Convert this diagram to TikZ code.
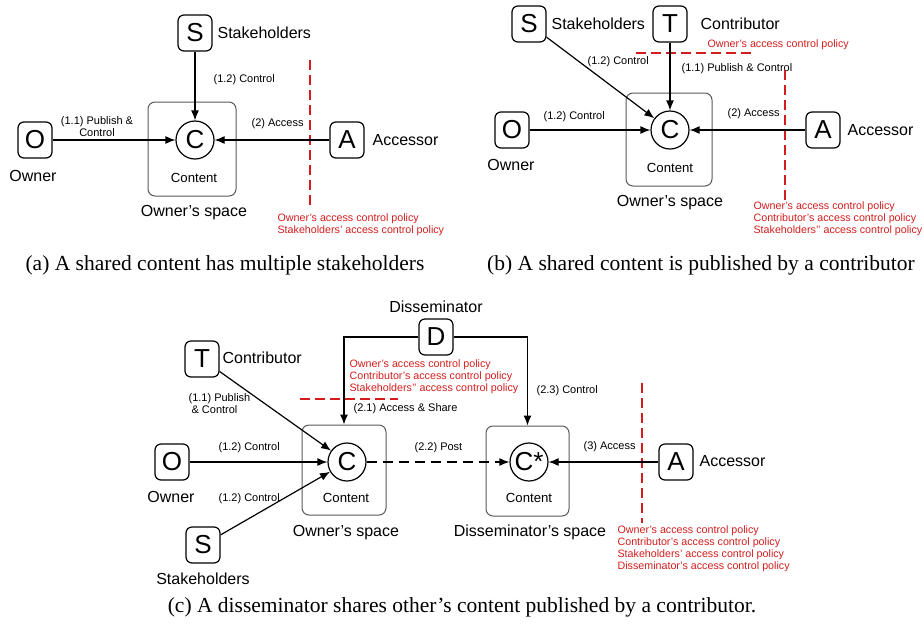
\documentclass[tikz,border=0pt]{standalone}
\usepackage{fontspec}
\setmainfont{Liberation Sans}
\newfontfamily\capfont{Liberation Serif}
\usetikzlibrary{arrows.meta}
\definecolor{policyred}{RGB}{212,28,28}

\begin{document}
\begin{tikzpicture}[x=1pt,y=-1pt,line width=1.2pt,>={Latex[length=10pt,width=8pt]}]
\useasboundingbox (0,0) rectangle (924,625);
\tikzset{
  spacebox/.style={draw=black!65,line width=1pt,rounded corners=7pt},
  lbl/.style={inner sep=0pt,font=\fontsize{16}{16}\selectfont},
  cnt/.style={inner sep=0pt,font=\fontsize{13.2}{13.2}\selectfont},
  act/.style={inner sep=0pt,anchor=west,font=\fontsize{11}{12}\selectfont},
  pol/.style={inner sep=0pt,anchor=north west,align=left,text=policyred,font=\fontsize{10.7}{12.2}\selectfont},
  polline/.style={draw=policyred,line width=1.1pt,dash pattern=on 10pt off 5pt},
  captext/.style={inner sep=0pt,font=\capfont\fontsize{21.5}{22}\selectfont}
}
% spaces
\node[spacebox,minimum width=88pt,minimum height=94pt] (spa) at (192,149) {};
\node[spacebox,minimum width=86pt,minimum height=93pt] (spb) at (669,139.5) {};
\node[spacebox,minimum width=84pt,minimum height=90pt] (spc) at (344,470) {};
\node[spacebox,minimum width=83pt,minimum height=90pt] (spd) at (527.5,471) {};

\begin{scope}[minimum width=34pt,minimum height=36pt,font=\fontsize{26}{26}\selectfont]
\tikzstyle{every node}=[draw,rounded corners=6pt,inner sep=0pt]
\node (sa) at (195,33) {S};
\node (oa) at (35,140) {O};
\node (aa) at (347,140) {A};
\node (sb) at (529,24) {S};
\node (tb) at (670,24) {T};
\node (ob) at (512,130) {O};
\node (ab) at (823,130) {A};
\node (dc) at (436,337) {D};
\node (tc) at (202,359) {T};
\node (oc) at (172,462) {O};
\node (sc) at (203,545) {S};
\node (ac) at (676,462) {A};
\end{scope}

\begin{scope}[shape=circle,minimum size=38pt,font=\fontsize{26}{26}\selectfont]
\tikzstyle{every node}=[draw,inner sep=0pt]
\node (ca) at (195,140) {C};
\node (cb) at (670,130) {C};
\node (cc) at (347,462) {C};
\node (cd) at (529,462) {C*};
\end{scope}

% (a)
\node[lbl,anchor=west] (lsa) at (217,33) {Stakeholders};
\node[lbl] (loa) at (33,176) {Owner};
\node[lbl,anchor=west] (laa) at (372,140) {Accessor};
\node[lbl] (lspa) at (194,213) {Owner’s space};
\node[cnt] (lca) at (194,178) {Content};
\node[act] (xa1) at (213,80) {(1.2) Control};
\node[act] (xa2) at (251,124) {(2) Access};
\node[act,anchor=center,align=center] (xa3) at (97,127) {(1.1) Publish \&\\Control};
\draw[polline] (310,60) -- (310,205);
\node[pol] (pa) at (277,213) {Owner’s access control policy\\Stakeholders’ access control policy};
\node[captext] (capa) at (225,265) {(a) A shared content has multiple stakeholders};

% (b)
\node[lbl,anchor=west] (lsb) at (551,24) {Stakeholders};
\node[lbl,anchor=west] (ltb) at (700,24) {Contributor};
\node[lbl] (lob) at (511,165) {Owner};
\node[lbl,anchor=west] (lab) at (847,130) {Accessor};
\node[lbl] (lspb) at (670,203) {Owner’s space};
\node[cnt] (lcb) at (670,168) {Content};
\node[act] (xb1) at (587,62) {(1.2) Control};
\node[act] (xb2) at (681,69) {(1.1) Publish \& Control};
\node[act] (xb3) at (543,117) {(1.2) Control};
\node[act] (xb4) at (727,114) {(2) Access};
\draw[polline] (636,53) -- (753,53);
\node[pol,anchor=west] (pb1) at (707,45) {Owner’s access control policy};
\draw[polline] (785,70) -- (785,200);
\node[pol] (pb2) at (753,201) {Owner’s access control policy\\Contributor’s access control policy\\Stakeholders’’ access control policy};
\node[captext] (capb) at (701,265) {(b) A shared content is published by a contributor};

% (c)
\node[lbl] (ldc) at (436,307) {Disseminator};
\node[lbl,anchor=west] (ltc) at (222,358) {Contributor};
\node[lbl] (loc) at (171,497) {Owner};
\node[lbl] (lsc) at (203,579) {Stakeholders};
\node[lbl,anchor=west] (lac) at (699,461) {Accessor};
\node[lbl] (lspc) at (346,533) {Owner’s space};
\node[lbl] (lspd) at (530,532) {Disseminator’s space};
\node[cnt] (lcc) at (346,498) {Content};
\node[cnt] (lcd) at (529,498) {Content};
\node[act,align=left] (xc1) at (188,403.5) {(1.1) Publish\\\hspace{3pt}\& Control};
\node[act] (xc2) at (353,409) {(2.1) Access \& Share};
\node[act] (xc3) at (536,391) {(2.3) Control};
\node[act] (xc4) at (218,448) {(1.2) Control};
\node[act] (xc5) at (218,499) {(1.2) Control};
\node[act] (xc6) at (414,448) {(2.2) Post};
\node[act] (xc7) at (583,447) {(3) Access};
\draw[polline] (300,399) -- (398,399);
\node[pol] (pc1) at (349,359) {Owner’s access control policy\\Contributor’s access control policy\\Stakeholders’’ access control policy};
\draw[polline] (642,383) -- (642,523);
\node[pol] (pc2) at (617,525) {Owner’s access control policy\\Contributor’s access control policy\\Stakeholders’ access control policy\\Disseminator’s access control policy};
\node[captext] (capc) at (462,607) {(c) A disseminator shares other’s content published by a contributor.};

\foreach \p in {sa,oa,aa} {
  \draw [->] (\p) -- (ca);
}
\foreach \p in {sb,tb,ob,ab} {
  \draw [->] (\p) -- (cb);
}
\foreach \p in {tc,oc,sc} {
  \draw [->] (\p) -- (cc);
}
\draw [->] (ac) -- (cd);
\draw [->,dash pattern=on 10pt off 6pt] (cc) -- (cd);
\draw [->] (dc) -| (spc);
\draw [->] (dc) -| (spd);
\end{tikzpicture}
\end{document}
